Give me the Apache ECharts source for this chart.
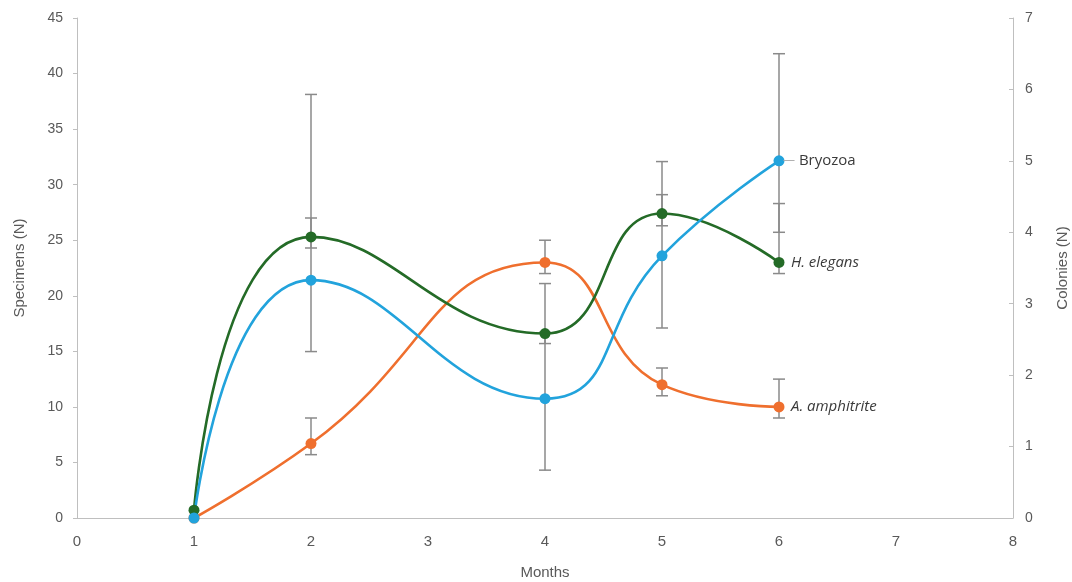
<!DOCTYPE html>
<html>
<head>
<meta charset="utf-8">
<script src="https://cdn.jsdelivr.net/npm/echarts@6/dist/echarts.min.js"></script>
<style>html,body{margin:0;padding:0;background:#fff;overflow:hidden}#c{width:1072px;height:582px}</style>
</head>
<body>
<div id="c"></div>
<script>
// Months (x values)
const months = [1, 2, 4, 5, 6];
// Specimens (N) – left axis
const hElegans      = [0.7, 25.3, 16.6, 27.4, 23.0];
const aAmphitrite   = [0.0, 6.7, 23.0, 12.0, 10.0];
// Colonies (N) – right axis
const bryozoa       = [0.0, 3.33, 1.67, 3.67, 5.0];

// Error bar bounds (null = no bar)
const hElegansLow    = [null, 24.3, 15.7, 26.3, 22.0];
const hElegansHigh   = [null, 27.0, 21.1, 29.1, 28.3];
const aAmphitriteLow = [null, 5.7, 22.0, 11.0, 9.0];
const aAmphitriteHigh= [null, 9.0, 25.0, 13.5, 12.5];
const bryozoaLow     = [null, 2.33, 0.67, 2.66, 4.0];
const bryozoaHigh    = [null, 5.93, 2.6, 4.99, 6.5];

const xTicks = [0, 1, 2, 3, 4, 5, 6, 7, 8];

const C_GREEN = '#246b27', C_ORANGE = '#ef6f2e', C_BLUE = '#22a3dc', C_ERR = '#8a8a8a';

function pts(ys) { return months.map((m, i) => [m, ys[i]]); }
function errData(lo, hi) {
  const out = [];
  months.forEach((m, i) => { if (lo[i] != null) out.push([m, lo[i], hi[i]]); });
  return out;
}
function errSeries(lo, hi, yAxisIndex) {
  return {
    type: 'custom', yAxisIndex: yAxisIndex, z: 1, silent: true,
    data: errData(lo, hi),
    encode: { x: 0, y: [1, 2] },
    renderItem: function (params, api) {
      const x = api.value(0);
      const a = api.coord([x, api.value(1)]);
      const b = api.coord([x, api.value(2)]);
      const w = 6;
      const st = { stroke: C_ERR, lineWidth: 1.5 };
      return { type: 'group', children: [
        { type: 'line', shape: { x1: a[0], y1: a[1], x2: b[0], y2: b[1] }, style: st },
        { type: 'line', shape: { x1: a[0] - w, y1: a[1], x2: a[0] + w, y2: a[1] }, style: st },
        { type: 'line', shape: { x1: b[0] - w, y1: b[1], x2: b[0] + w, y2: b[1] }, style: st }
      ]};
    }
  };
}
function lineSeries(name, ys, color, yAxisIndex, labelStyle) {
  return {
    name: name, type: 'line', yAxisIndex: yAxisIndex, z: 3,
    data: pts(ys), smooth: 0.5,
    symbol: 'circle', symbolSize: 11,
    lineStyle: { color: color, width: 2.6 },
    itemStyle: { color: color },
    endLabel: Object.assign({ show: true, distance: 12, fontSize: 15, color: '#3a3a3a',
      fontFamily: 'Open Sans, Liberation Sans, sans-serif' }, labelStyle)
  };
}

const chart = echarts.init(document.getElementById('c'));
const axisTxt = { color: '#595959', fontSize: 14, fontFamily: 'Liberation Sans, Arial, sans-serif' };
chart.setOption({
  animation: false,
  grid: { left: 77, right: 59, top: 18, bottom: 64, outerBoundsMode: 'none', containLabel: false },
  xAxis: {
    type: 'value', min: xTicks[0], max: xTicks[xTicks.length - 1], interval: 1,
    name: 'Months', nameLocation: 'middle', nameGap: 47,
    nameTextStyle: { color: '#595959', fontSize: 15, fontFamily: 'Liberation Sans Narrow, Liberation Sans, sans-serif' },
    axisLine: { show: true, lineStyle: { color: '#bfbfbf', width: 1 } },
    axisTick: { show: false },
    axisLabel: Object.assign({ margin: 16 }, axisTxt, { fontFamily: 'Liberation Sans Narrow, Liberation Sans, sans-serif', fontSize: 15 }),
    splitLine: { show: false }
  },
  yAxis: [{
    type: 'value', min: 0, max: 45, interval: 5,
    name: 'Specimens (N)', nameLocation: 'middle', nameGap: 50,
    nameTextStyle: { color: '#595959', fontSize: 15, fontFamily: 'Liberation Sans, Arial, sans-serif' },
    axisLine: { show: true, lineStyle: { color: '#bfbfbf' } },
    axisTick: { show: true, length: 4, lineStyle: { color: '#bfbfbf' } },
    axisLabel: Object.assign({ margin: 14 }, axisTxt),
    splitLine: { show: false }
  }, {
    type: 'value', min: 0, max: 7, interval: 1, position: 'right',
    name: 'Colonies (N)', nameLocation: 'middle', nameGap: 42,
    nameTextStyle: { color: '#595959', fontSize: 15, fontFamily: 'Liberation Sans, Arial, sans-serif' },
    axisLine: { show: true, lineStyle: { color: '#bfbfbf' } },
    axisTick: { show: true, inside: true, length: 4, lineStyle: { color: '#bfbfbf' } },
    axisLabel: Object.assign({ margin: 12 }, axisTxt),
    splitLine: { show: false }
  }],
  series: [
    errSeries(hElegansLow, hElegansHigh, 0),
    errSeries(aAmphitriteLow, aAmphitriteHigh, 0),
    errSeries(bryozoaLow, bryozoaHigh, 1),
    lineSeries('A. amphitrite', aAmphitrite, C_ORANGE, 0, { fontStyle: 'italic', formatter: '{a}' }),
    lineSeries('H. elegans', hElegans, C_GREEN, 0, { fontStyle: 'italic', formatter: '{a}' }),
    lineSeries('Bryozoa', bryozoa, C_BLUE, 1, {
      distance: 4,
      formatter: '{l|—} {a}',
      rich: { l: { color: '#aaaaaa', fontSize: 12 } }
    })
  ]
});
</script>
</body>
</html>
